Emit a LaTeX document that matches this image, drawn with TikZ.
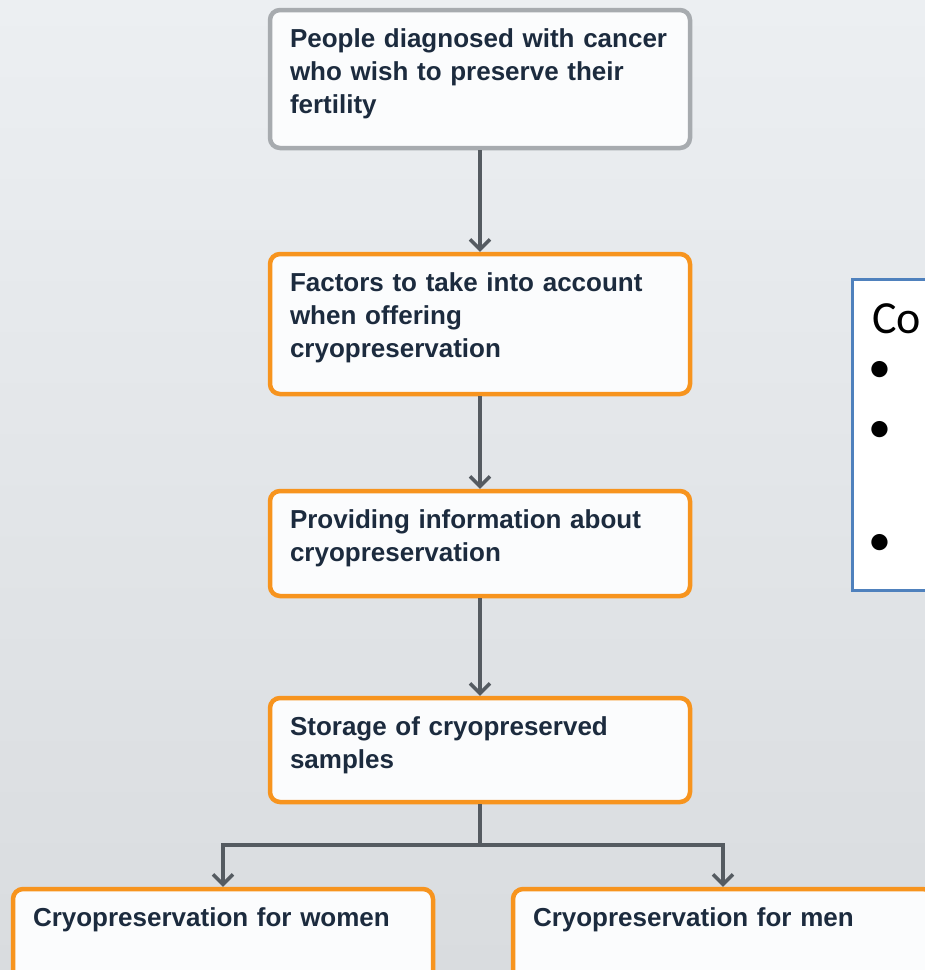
\documentclass[tikz,border=0pt]{standalone}
\usepackage{fontspec}
\setmainfont{Liberation Sans}
\newfontfamily\notefont{Carlito}
\usetikzlibrary{arrows.meta}

\definecolor{bgtop}{HTML}{ECEFF2}
\definecolor{bgbottom}{HTML}{D9DCDF}
\definecolor{boxorange}{HTML}{F7941E}
\definecolor{boxgray}{HTML}{A7ABAF}
\definecolor{boxfill}{HTML}{FBFCFD}
\definecolor{boxtext}{HTML}{1C2B3E}
\definecolor{flowgray}{HTML}{555B61}
\definecolor{noteblue}{HTML}{4F81BD}

\tikzset{
  stepbox/.style={draw=boxorange, line width=2.25pt, rounded corners=5pt, fill=boxfill,
    text width=190pt, inner xsep=10pt, inner ysep=9.5pt, align=left,
    text height=9.3pt, text=boxtext, font=\bfseries\fontsize{13pt}{16.5pt}\selectfont},
  startbox/.style={stepbox, draw=boxgray},
  flow/.style={draw=flowgray, line width=1.75pt, -{Straight Barb[length=5pt,width=10pt]}},
  link/.style={draw=flowgray, line width=1.75pt},
  notetext/.style={font=\notefont\fontsize{23pt}{27.6pt}\selectfont, inner sep=0pt}
}

\begin{document}
\begin{tikzpicture}[x=0.5pt, y=-0.5pt]

    \path[use as bounding box] (0,0) rectangle (925,970);
    \clip (0,0) rectangle (925,970);
    \shade[top color=bgtop, bottom color=bgbottom] (0,0) rectangle (925,970);


    \node[startbox, text depth=40.7pt] (people) at (480,79)
      {People diagnosed with cancer\\who wish to preserve their\\fertility};

    \node[stepbox, text depth=41.7pt] (factors) at (480,324)
      {Factors to take into account\\when offering\\cryopreservation};

    \node[stepbox, text depth=24.2pt] (info) at (480,543.5)
      {Providing information about\\cryopreservation};

    \node[stepbox, text depth=23.7pt] (storage) at (480,750)
      {Storage of cryopreserved\\samples};

    \node[stepbox, text depth=31.7pt] (women) at (223,949) {Cryopreservation for women};

    \node[stepbox, text depth=31.7pt] (men) at (723,949) {Cryopreservation for men};


    \draw[flow] (people) -- (factors);
    \draw[flow] (factors) -- (info);
    \draw[flow] (info) -- (storage);

    \coordinate (split) at (480,845);
    \draw[link] (storage) -- (split);
    \draw[flow] (split) -| (women);
    \draw[flow] (split) -| (men);


    \node[draw=noteblue, line width=1.5pt, fill=white, anchor=north west,
      minimum width=124pt, minimum height=155.5pt, inner sep=0pt, outer sep=0pt]
      (notes) at (852,279) {};

    \node[notetext, anchor=base west] (co) at (872,333) {Co};
    \node[notetext] (dot1) at (880,372) {•};
    \node[notetext] (dot2) at (880,432) {•};
    \node[notetext] (dot3) at (880,545) {•};

\end{tikzpicture}
\end{document}
